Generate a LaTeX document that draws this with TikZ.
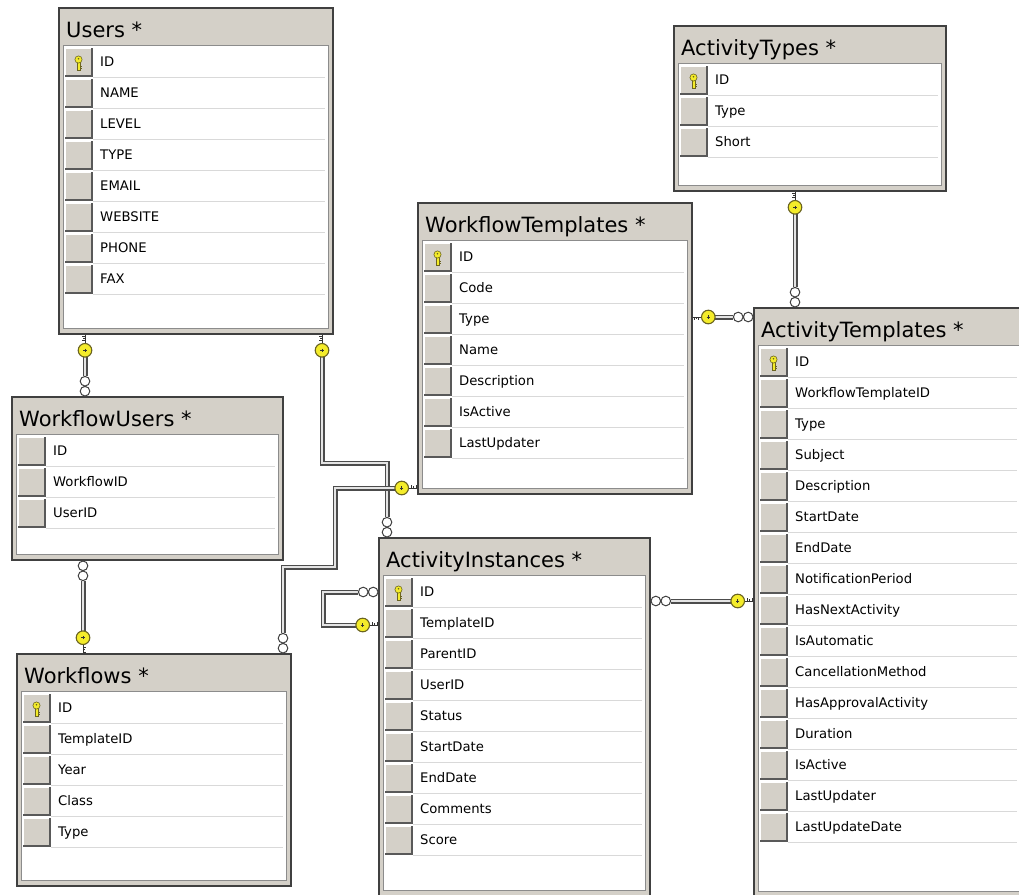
\documentclass[tikz,border=0pt]{standalone}
\usepackage{fontspec}
\setmainfont{DejaVu Sans}
\usepackage{tikz}
\usetikzlibrary{fit}
\definecolor{WinFace}{HTML}{D4D0C8}
\definecolor{FrameDark}{HTML}{404040}
\definecolor{RowLine}{HTML}{D9D9D9}
\definecolor{KeyYellow}{HTML}{F4EC2A}
\definecolor{KeyEdge}{HTML}{6B6420}
\definecolor{PipeFill}{HTML}{E4E4E4}

\tikzset{
  tblframe/.style={draw=FrameDark,fill=WinFace,line width=1.6pt,inner sep=0pt},
  tbltitle/.style={anchor=base west,inner sep=0pt,font=\fontsize{21}{24}\selectfont},
  listbox/.style={draw=black!45,fill=white,line width=0.6pt},
  rowsep/.style={draw=RowLine,line width=0.8pt},
  fieldtext/.style={anchor=base west,inner sep=0pt,font=\fontsize{13.2}{16}\selectfont},
  link/.style={draw=black!70,double=PipeFill,double distance=2.6pt,line width=1.2pt},
  % "one" end: key lying on the pipe, teeth towards the table
  onekey/.pic={
    \fill[white] (0,-3.6) rectangle (9,3.6);
    \draw[black!80,line width=1pt] (0,0) -- (9,0)
      (1.2,0) -- (1.2,2.6) (3.6,0) -- (3.6,2) (6,0) -- (6,2.6);
    \draw[KeyEdge,fill=KeyYellow,line width=1.1pt] (15.5,0) circle (6.8pt);
    \draw[black!80,line width=0.8pt] (13.8,0) -- (17.2,0) (15.5,-1.7) -- (15.5,1.7);
  },
  % "many" end: two small rings
  manyend/.pic={
    \fill[white] (0,-3.6) rectangle (20.5,3.6);
    \draw[black!75,fill=white,line width=1pt] (5,0) circle (4.8pt) (15,0) circle (4.8pt);
  },
  % primary key mark in the ID row button
  pkicon/.pic={
    \draw[KeyEdge,fill=KeyYellow,line width=0.6pt] (-1.5,-1) rectangle (1.5,7);
    \draw[KeyEdge,line width=0.6pt] (1.5,3.5) -- (3,3.5) (1.5,5.5) -- (3,5.5);
    \draw[KeyEdge,fill=KeyYellow,line width=0.6pt] (0,-3.5) circle (3.6pt);
    \fill[KeyEdge] (0,-4.3) circle (0.9pt);
  },
}

% table: name, left, top, right, bottom, title, fields, key mark (1/0)
\newcommand{\erdtable}[8]{%
  \node[tblframe,fit={(#2,#3) (#4,#5)}] (#1) {};
  \node[tbltitle] (#1-title) at ({#2+7},{#3+29}) {#6};
  \draw[listbox] ({#2+4.5},{#3+37.5}) rectangle ({#4-4.5},{#5-6});
  \foreach \fld [count=\i from 0] in {#7} {
    \pgfmathsetmacro\rt{#3+38.5+\i*31}
    \draw[rowsep] ({#2+34},{\rt+31}) -- ({#4-8},{\rt+31});
    \fill[WinFace] ({#2+6},{\rt+1}) rectangle ({#2+33},{\rt+30});
    \draw[white,line width=0.8pt] ({#2+6.4},{\rt+29}) -- ({#2+6.4},{\rt+1.4}) -- ({#2+32},{\rt+1.4});
    \draw[black!65,line width=1.4pt] ({#2+6},{\rt+29.3}) -- ({#2+33},{\rt+29.3}) -- ({#2+33},{\rt+1});
    \node[fieldtext] (#1-\i) at ({#2+41},{\rt+20}) {\fld};
  }
  \ifnum#8=1 \pic at ({#2+19.5},{#3+55}) {pkicon};\fi
}

\begin{document}
\begin{tikzpicture}[x=1pt,y=-1pt]
  \fill[white] (0,0) rectangle (1019,894);
  \useasboundingbox (0,0) rectangle (1019,894);

  \erdtable{users}{59}{8}{333}{334}{Users *}{ID,NAME,LEVEL,TYPE,EMAIL,WEBSITE,PHONE,FAX}{1}
  \erdtable{acttypes}{674}{26}{946}{191}{ActivityTypes *}{ID,Type,Short}{1}
  \erdtable{wftemplates}{418}{203}{692}{494}{WorkflowTemplates *}{ID,Code,Type,Name,Description,IsActive,LastUpdater}{1}
  \erdtable{wfusers}{12}{397}{283}{560}{WorkflowUsers *}{ID,WorkflowID,UserID}{0}
  \erdtable{workflows}{17}{654}{291}{886}{Workflows *}{ID,TemplateID,Year,Class,Type}{1}
  \erdtable{actinst}{379}{538}{650}{896}{ActivityInstances *}{ID,TemplateID,ParentID,UserID,Status,StartDate,EndDate,Comments,Score}{1}
  \erdtable{acttemplates}{754}{308}{1025}{897}{ActivityTemplates *}{ID,WorkflowTemplateID,Type,Subject,Description,StartDate,EndDate,NotificationPeriod,HasNextActivity,IsAutomatic,CancellationMethod,HasApprovalActivity,Duration,IsActive,LastUpdater,LastUpdateDate}{1}

  % relationships
  \draw[link] (85,0 |- users.south) -- (85,0 |- wfusers.north);
  \pic[rotate=-90] at (85,0 |- users.south) {onekey};
  \pic[rotate=90] at (85,0 |- wfusers.north) {manyend};

  \draw[link] (322,0 |- users.south) |- (387,463) -- (387,0 |- actinst.north);
  \pic[rotate=-90] at (322,0 |- users.south) {onekey};
  \pic[rotate=90] at (387,0 |- actinst.north) {manyend};

  \draw[link] (83,0 |- wfusers.south) -- (83,0 |- workflows.north);
  \pic[rotate=-90] at (83,0 |- wfusers.south) {manyend};
  \pic[rotate=90] at (83,0 |- workflows.north) {onekey};

  \draw[link] (283,0 |- workflows.north) |- (335,567) |- (wftemplates.west |- 0,488);
  \pic[rotate=90] at (283,0 |- workflows.north) {manyend};
  \pic[rotate=180] at (wftemplates.west |- 0,488) {onekey};

  \draw[link] (actinst.west |- 0,592) -| (323,625) -- (actinst.west |- 0,625);
  \pic[rotate=180] at (actinst.west |- 0,592) {manyend};
  \pic[rotate=180] at (actinst.west |- 0,625) {onekey};

  \draw[link] (actinst.east |- 0,601) -- (acttemplates.west |- 0,601);
  \pic at (actinst.east |- 0,601) {manyend};
  \pic[rotate=180] at (acttemplates.west |- 0,601) {onekey};

  \draw[link] (wftemplates.east |- 0,317) -- (acttemplates.west |- 0,317);
  \pic at (wftemplates.east |- 0,317) {onekey};
  \pic[rotate=180] at (acttemplates.west |- 0,317) {manyend};

  \draw[link] (795,0 |- acttypes.south) -- (795,0 |- acttemplates.north);
  \pic[rotate=-90] at (795,0 |- acttypes.south) {onekey};
  \pic[rotate=90] at (795,0 |- acttemplates.north) {manyend};
\end{tikzpicture}
\end{document}
